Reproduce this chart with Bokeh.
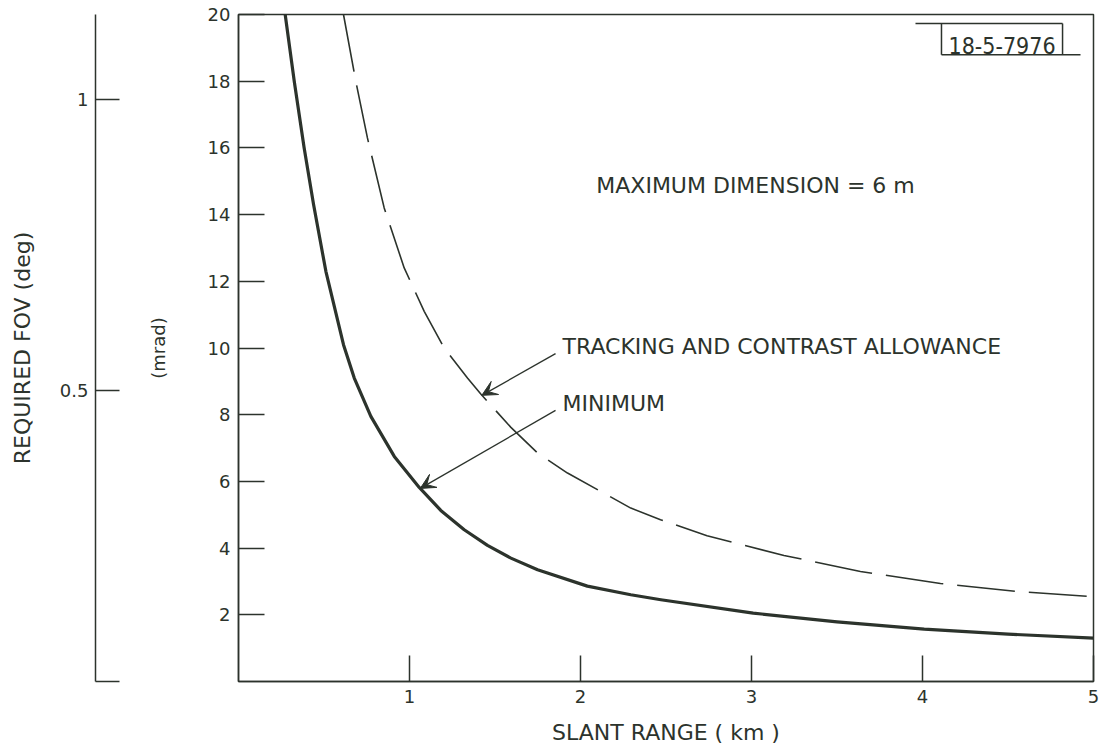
from bokeh.plotting import figure
from bokeh.layouts import row
from bokeh.models import (Range1d, FixedTicker, CustomJSTickFormatter,
                          Arrow, VeeHead, Label)
from bokeh.embed import file_html
from bokeh.resources import INLINE

# ---- data ----
min_range = [0.273, 0.326, 0.384, 0.439, 0.511, 0.614, 0.677, 0.774, 0.911, 1.057, 1.183,
             1.32, 1.456, 1.593, 1.749, 2.04, 2.294, 2.47, 3.01, 3.5, 4.01, 4.5, 5.0]
min_fov = [20.0, 18.0, 16.0, 14.3, 12.3, 10.1, 9.1, 7.95, 6.75, 5.82, 5.13,
           4.55, 4.08, 3.7, 3.35, 2.86, 2.6, 2.45, 2.05, 1.79, 1.57, 1.42, 1.30]

trk_range = [0.614, 0.686, 0.754, 0.852, 0.969, 1.086, 1.203, 1.339, 1.417, 1.593, 1.749,
             1.924, 2.294, 2.468, 2.74, 3.19, 3.637, 4.105, 4.55, 5.0]
trk_fov = [20.0, 18.0, 16.3, 14.2, 12.4, 11.1, 10.0, 9.1, 8.62, 7.62, 6.85,
           6.25, 5.2, 4.85, 4.37, 3.78, 3.3, 2.94, 2.7, 2.54]

x_ticks = [1, 2, 3, 4, 5]
y_ticks = [2, 4, 6, 8, 10, 12, 14, 16, 18, 20]
deg_ticks = [0, 0.5, 1]
MRAD_PER_DEG = 17.4533

title_text = "MAXIMUM  DIMENSION = 6 m"
trk_text = "TRACKING AND CONTRAST ALLOWANCE"
min_text = "MINIMUM"
id_text = "18-5-7976"

# annotation anchors (data units)
trk_arrow = dict(x_start=1.854, y_start=9.83, x_end=1.423, y_end=8.58)
min_arrow = dict(x_start=1.854, y_start=8.13, x_end=1.063, y_end=5.79)

INK = "#2c332c"
FONT = "DejaVu Sans"
TOP, BOTTOM = 14, 71
LEFT_W = 125


def style_axis(ax, label_size="18px", title_size="22px"):
    ax.axis_line_color = INK
    ax.axis_line_width = 1.5
    ax.major_tick_line_color = INK
    ax.major_tick_line_width = 1.5
    ax.minor_tick_line_color = None
    ax.major_tick_out = 0
    ax.major_label_text_font = FONT
    ax.major_label_text_font_size = label_size
    ax.major_label_text_color = INK
    ax.axis_label_text_font = FONT
    ax.axis_label_text_font_size = title_size
    ax.axis_label_text_font_style = "normal"
    ax.axis_label_text_color = INK


# ---- left narrow figure carrying the degree scale ----
pd = figure(width=LEFT_W, height=752, x_range=Range1d(0, 1),
            y_range=Range1d(0, 20 / MRAD_PER_DEG),
            output_backend="svg", toolbar_location=None, x_axis_location=None,
            min_border_left=95, min_border_right=0, min_border_top=TOP, min_border_bottom=BOTTOM)
pd.grid.visible = False
pd.outline_line_color = None
pd.background_fill_color = "white"
pd.border_fill_color = "white"
da = pd.yaxis[0]
style_axis(da)
da.ticker = FixedTicker(ticks=deg_ticks)
da.formatter = CustomJSTickFormatter(code="return tick == 0 ? '' : String(tick)")
da.major_tick_in = 24
da.major_label_standoff = 7
da.axis_label = "REQUIRED FOV (deg)"
da.axis_label_standoff = 22

# ---- main figure ----
p = figure(width=1101 - LEFT_W, height=752, x_range=Range1d(0, 5), y_range=Range1d(0, 20),
           output_backend="svg", toolbar_location=None,
           min_border_left=238 - LEFT_W, min_border_right=8,
           min_border_top=TOP, min_border_bottom=BOTTOM)
p.grid.visible = False
p.outline_line_color = INK
p.outline_line_width = 1.5
p.background_fill_color = "white"
p.border_fill_color = "white"

xa = p.xaxis[0]
style_axis(xa)
xa.ticker = FixedTicker(ticks=x_ticks)
xa.major_tick_in = 26
xa.major_label_standoff = 8
xa.axis_label = "SLANT RANGE ( km )"
xa.axis_label_standoff = 14

ya = p.yaxis[0]
style_axis(ya, title_size="18px")
ya.ticker = FixedTicker(ticks=y_ticks)
ya.major_tick_in = 26
ya.major_label_standoff = 8
ya.axis_label = "(mrad)"
ya.axis_label_standoff = 36

# curves
p.line(min_range, min_fov, line_width=3.2, line_color=INK, line_join="round")
p.line(trk_range, trk_fov, line_width=1.6, line_color=INK, line_dash="58 14")


def add_label(x, y, text, size="22px", align="left", font=FONT, style="normal"):
    p.add_layout(Label(x=x, y=y, text=text, text_font=font, text_font_size=size,
                       text_color=INK, text_align=align, text_baseline="alphabetic",
                       text_font_style=style))


add_label(3.044, 14.87, title_text, align="center")
add_label(1.895, 10.03, trk_text)
add_label(1.895, 8.33, min_text)

for a in (trk_arrow, min_arrow):
    p.add_layout(Arrow(**a, line_color=INK, line_width=1.3,
                       end=VeeHead(size=15, fill_color=INK, line_color=INK, line_width=1)))

# reference number box
p.segment(x0=[3.959, 4.111, 4.111, 4.819], y0=[19.73, 18.79, 18.79, 18.79],
          x1=[4.819, 4.924, 4.111, 4.819], y1=[19.73, 18.79, 19.73, 19.73],
          line_color=INK, line_width=1.5)
add_label(4.465, 19.06, id_text, size="23px", align="center",
          font="Liberation Sans Narrow, DejaVu Sans Condensed, sans-serif")

layout = row(pd, p, spacing=0)
open("out.html", "w").write(file_html(layout, INLINE))
